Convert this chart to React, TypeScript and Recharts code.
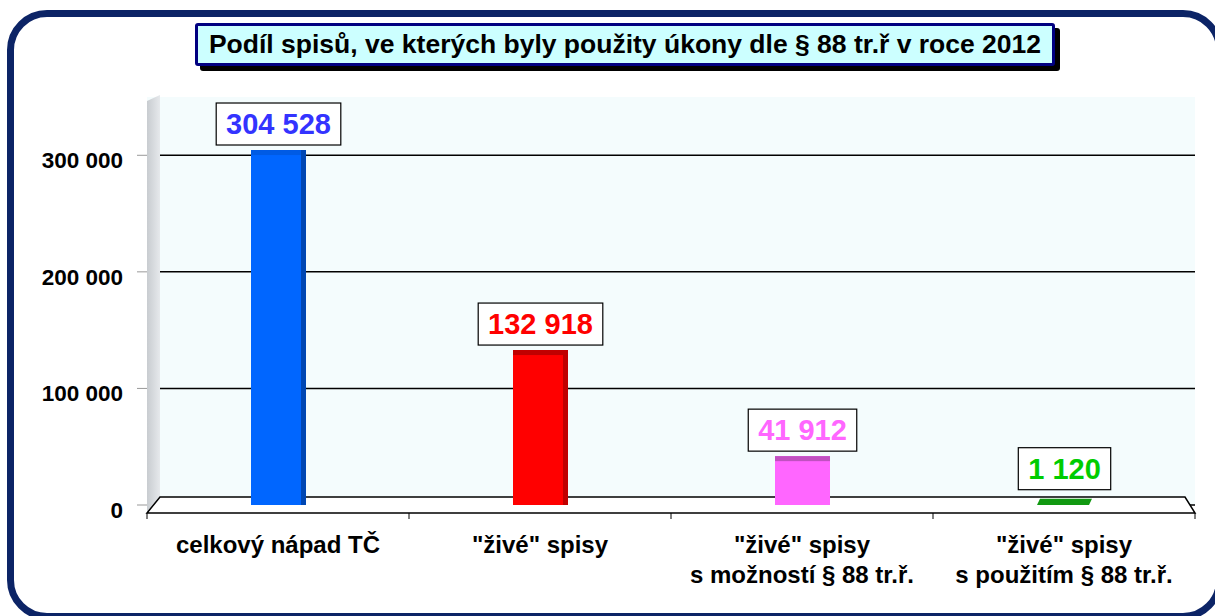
import { BarChart, Bar, XAxis, YAxis, CartesianGrid, LabelList, Customized } from 'recharts'

const categories = [
  ['celkový nápad TČ'],
  ['"živé" spisy'],
  ['"živé" spisy', 's možností § 88 tr.ř.'],
  ['"živé" spisy', 's použitím § 88 tr.ř.'],
]
const values = [304528, 132918, 41912, 1120]
const barColors = ['#0066ff', '#ff0000', '#ff66ff', '#119911']
const shadeColors = ['#0047b3', '#c00000', '#c050c0', '#0b7a0b']
const labelColors = ['#3333ff', '#ff0000', '#ff66ff', '#00cc00']
const yTicks = [0, 100000, 200000, 300000]

const FONT = '"Liberation Sans", Arial, sans-serif'
const W = 1215
const H = 616
const M = { top: 97, right: 20, bottom: 51, left: 0 }
const X_H = 60
const Y_W = 147

const fmt = (v: number) => String(v).replace(/\B(?=(\d{3})+(?!\d))/g, ' ')

const data = values.map((v, i) => ({ name: String(i), value: v, idx: i }))

// left side wall + floor strip (decoration only)
function Walls() {
  const x0 = Y_W
  const x1 = W - M.right
  const top = M.top
  const base = H - M.bottom - X_H
  const step = (x1 - x0) / categories.length
  return (
    <g>
      <defs>
        <linearGradient id="sideWall" x1="0" y1="0" x2="1" y2="0">
          <stop offset="0" stopColor="#c8ccd0" />
          <stop offset="1" stopColor="#e6e9ec" />
        </linearGradient>
      </defs>
      <polygon
        points={`${x0},${top + 4} ${x0 + 13},${top - 2} ${x0 + 13},${base - 8} ${x0},${base + 8}`}
        fill="url(#sideWall)"
      />
      <polygon
        points={`${x0 + 13},${base - 8} ${x1 - 10},${base - 8} ${x1},${base + 8} ${x0},${base + 8}`}
        fill="#ffffff"
        stroke="#000"
        strokeWidth={1.5}
      />
      {categories.map((_, k) => (
        <line key={k} x1={x0 + k * step} x2={x0 + k * step} y1={base + 8} y2={base + 14} stroke="#000" />
      ))}
      <line x1={x1} x2={x1} y1={base + 8} y2={base + 14} stroke="#000" />
    </g>
  )
}

function BarShape(props: any) {
  const { x, y, width, height, payload } = props
  const i = payload.idx
  if (i === 3) {
    return (
      <polygon
        points={`${x},${y + height} ${x + width - 3},${y + height} ${x + width},${y - 5} ${x + 3},${y - 5}`}
        fill={barColors[i]}
      />
    )
  }
  return (
    <g>
      <rect x={x} y={y} width={width} height={height} fill={barColors[i]} />
      <rect x={x} y={y} width={width} height={5} fill={shadeColors[i]} opacity={i === 0 ? 0.35 : 1} />
      <rect x={x + width - 5} y={y} width={5} height={height} fill={shadeColors[i]} opacity={i === 2 ? 0 : 1} />
    </g>
  )
}

function ValueLabel(props: any) {
  const { x, y, width, value, index } = props
  const text = fmt(value)
  const digits = text.replace(/ /g, '').length
  const spaces = text.length - digits
  const bw = digits * 16.1 + spaces * 8 + 20
  const bh = 42
  const cx = x + width / 2
  const gap = index === 3 ? 14 : 5
  const by = y - gap - bh
  return (
    <g>
      <rect x={cx - bw / 2} y={by} width={bw} height={bh} fill="#fff" stroke="#000" strokeWidth={1.2} />
      <text
        x={cx}
        y={by + bh / 2 + 10}
        textAnchor="middle"
        fontFamily={FONT}
        fontWeight="bold"
        fontSize={29}
        fill={labelColors[index]}
      >
        {text}
      </text>
    </g>
  )
}

function CatTick(props: any) {
  const { x, y, payload } = props
  const lines = categories[Number(payload.value)]
  return (
    <g>
      {lines.map((l, k) => (
        <text
          key={k}
          x={x}
          y={y + 40 + k * 30}
          textAnchor="middle"
          fontFamily={FONT}
          fontWeight="bold"
          fontSize={24}
          fill="#000"
        >
          {l}
        </text>
      ))}
    </g>
  )
}

function ValTick(props: any) {
  const { x, y, payload } = props
  return (
    <text
      x={x}
      y={y + 13}
      textAnchor="end"
      fontFamily={FONT}
      fontWeight="bold"
      fontSize={22.5}
      fill="#000"
    >
      {fmt(payload.value)}
    </text>
  )
}

export default function App() {
  return (
    <div style={{ position: 'absolute', left: 0, top: 0, width: W, height: H, background: '#fff', overflow: 'hidden' }}>
      <div
        style={{
          position: 'absolute',
          left: 7,
          top: 10,
          width: 1216,
          height: 610,
          boxSizing: 'border-box',
          border: '7px solid #0c2466',
          borderRadius: 40,
        }}
      />
      <div
        style={{
          position: 'absolute',
          left: 195,
          top: 23,
          width: 860,
          height: 43,
          boxSizing: 'border-box',
          border: '3px solid #000080',
          borderRadius: 3,
          background: '#ccffff',
          boxShadow: '5px 5px 0 #000',
          fontFamily: FONT,
          fontWeight: 'bold',
          fontSize: 26.5,
          lineHeight: '37px',
          textAlign: 'center',
          whiteSpace: 'nowrap',
          color: '#000',
        }}
      >
        Podíl spisů, ve kterých byly použity úkony dle § 88 tr.ř v roce 2012
      </div>
      <div style={{ position: 'absolute', left: 0, top: 0 }}>
        <BarChart width={W} height={H} data={data} margin={M} barCategoryGap={0}>
          <CartesianGrid
            vertical={false}
            horizontalValues={yTicks}
            stroke="#000"
            strokeWidth={1.5}
            fill="#f4fcfd"
            fillOpacity={1}
          />
          <Customized component={<Walls />} />
          <XAxis dataKey="name" height={X_H} tick={<CatTick />} tickLine={false} axisLine={false} interval={0} />
          <YAxis
            width={Y_W}
            domain={[0, 350000]}
            ticks={yTicks}
            axisLine={false}
            tickSize={10}
            tickMargin={14}
            tickLine={{ stroke: '#999' }}
            tick={<ValTick />}
          />
          <Bar dataKey="value" barSize={55} shape={<BarShape />} isAnimationActive={false}>
            <LabelList dataKey="value" content={<ValueLabel />} />
          </Bar>
        </BarChart>
      </div>
    </div>
  )
}
